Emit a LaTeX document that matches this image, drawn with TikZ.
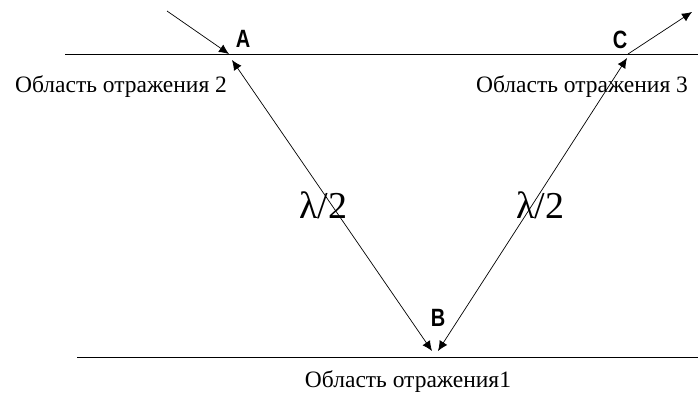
\documentclass[tikz,border=0pt]{standalone}
\usepackage{fontspec}
\setmainfont{Liberation Serif}
\newfontfamily\lettfont{Liberation Sans}
\usetikzlibrary{arrows.meta}
\begin{document}
\begin{tikzpicture}[x=1pt,y=-1pt,
  surf/.style={line width=1.5pt,black},
  ray/.style={line width=0.7pt,black,-{Latex[length=10pt,width=9pt]}},
  dray/.style={line width=0.7pt,black,{Latex[length=10pt,width=9pt]}-{Latex[length=10pt,width=9pt]}},
  region/.style={font=\fontsize{23.5}{26}\selectfont,inner sep=0pt},
  lam/.style={font=\fontsize{38}{42}\selectfont,inner sep=0pt},
  pt/.style={font=\lettfont\bfseries\fontsize{25}{28}\selectfont,inner sep=0pt,xscale=0.8}]
\useasboundingbox (0,0) rectangle (698,397);
% surfaces
\coordinate (T1) at (65,54.5);
\coordinate (T2) at (698,54.5);
\coordinate (U1) at (77,357.5);
\coordinate (U2) at (698,357.5);
\draw[surf] (T1) -- (T2);
\draw[surf] (U1) -- (U2);
% ray points
\coordinate (S) at (167,11);
\coordinate (A) at (229,54);
\coordinate (Ab) at (232,60);
\coordinate (Bl) at (432,351);
\coordinate (Br) at (438,351);
\coordinate (Cb) at (627,58);
\coordinate (C) at (628,54);
\coordinate (E) at (692,12);
\draw[ray] (S) -- (A);
\draw[dray] (Ab) -- (Bl);
\draw[dray] (Br) -- (Cb);
\draw[ray] (C) -- (E);
% labels
\node[pt] (la) at (243,39) {A};
\node[pt] (lb) at (438,318) {B};
\node[pt] (lc) at (620,40) {C};
\node[lam] (l1) at (323,205) {λ/2};
\node[lam] (l2) at (540,205) {λ/2};
\node[region] (r2) at (121,87) {Область отражения 2};
\node[region] (r3) at (582,87) {Область отражения 3};
\node[region] (r1) at (408,382) {Область отражения1};
\end{tikzpicture}
\end{document}
